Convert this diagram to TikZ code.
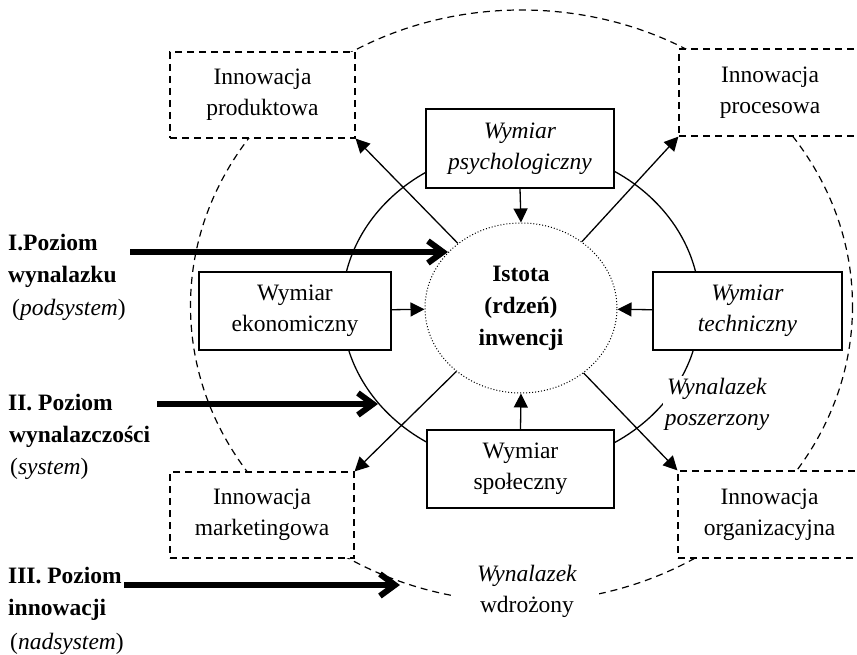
\documentclass[tikz,border=0pt]{standalone}
\usepackage{fontspec}
\setmainfont{Liberation Serif}
\usetikzlibrary{arrows.meta,shapes.geometric}
\begin{document}
\begin{tikzpicture}[x=1pt,y=-1pt,
  every node/.style={font=\fontsize{23.5}{31}\selectfont},
  dimbox/.style={draw,line width=1.3pt,fill=white,align=center,inner sep=0pt},
  innobox/.style={draw,line width=1.2pt,dash pattern=on 7pt off 5pt,fill=white,align=center,inner sep=0pt},
  bigdash/.style={line width=1.2pt,dash pattern=on 7pt off 5pt},
  thin/.style={line width=1.3pt,-{Triangle[length=14pt,width=14pt]}},
  lvl/.style={line width=6pt,-{Straight Barb[length=15pt,width=22pt]}},
  lbl/.style={anchor=base west,inner sep=0pt},
  freetext/.style={fill=white,align=center,inner sep=2pt}
]
\useasboundingbox (0,0) rectangle (857,655);
\clip (0,0) rectangle (857,655);
\fill[white] (0,0) rectangle (857,655);

% outer dashed ellipse (Wynalazek wdrozony)
\draw[bigdash] (521.5,306) ellipse [x radius=331, y radius=296];
% solid ellipse (Wynalazek poszerzony)
\draw[line width=1.3pt] (521,307) ellipse [x radius=179, y radius=159];

% innovation boxes
\node[innobox,minimum width=185pt,minimum height=86pt] (prod) at (262.5,95) {Innowacja\\produktowa};
\node[innobox,minimum width=182pt,minimum height=87pt] (proc) at (770,92.5) {Innowacja\\procesowa};
\node[innobox,minimum width=184pt,minimum height=86pt] (mark) at (262,515) {Innowacja\\marketingowa};
\node[innobox,minimum width=183pt,minimum height=87pt] (org) at (769.5,514.5) {Innowacja\\organizacyjna};

% free texts
\node[freetext] (posz) at (717,404) {\textit{Wynalazek}\\\textit{poszerzony}};
\node[freetext,inner xsep=22pt,inner ysep=1pt] (wdr) at (527,591) {\textit{Wynalazek}\\wdrożony};

% dimension boxes
\node[dimbox,minimum width=188pt,minimum height=79pt] (psych) at (520,148.5) {\textit{Wymiar}\\\textit{psychologiczny}};
\node[dimbox,minimum width=192pt,minimum height=78pt] (ekon) at (295,311) {Wymiar\\ekonomiczny};
\node[dimbox,minimum width=189pt,minimum height=78pt] (tech) at (747.5,311) {\textit{Wymiar}\\\textit{techniczny}};
\node[dimbox,minimum width=187pt,minimum height=78pt] (spol) at (520.5,469) {Wymiar\\społeczny};

% core
\node[ellipse,draw,line width=1pt,dash pattern=on 1pt off 2pt,fill=white,
      minimum width=192pt,minimum height=170pt,inner sep=0pt,align=center,
      font=\fontsize{23.5}{32}\selectfont\bfseries] (core) at (521,308)
      {Istota\\(rdzeń)\\inwencji};

% arrows into core
\draw[thin] (psych.south) -- (core.north);
\draw[thin] (spol.north) -- (core.south);
\draw[thin] (ekon) -- (core);
\draw[thin] (tech) -- (core);

% arrows out of core
\draw[thin] (core) -- (prod.south east);
\draw[thin] (core) -- (proc.south west);
\draw[thin] (core) -- (mark.north east);
\draw[thin] (core) -- (org.north west);

% level arrows
\coordinate (s1) at (130,252);
\coordinate (e1) at (448,252);
\coordinate (s2) at (157,404);
\coordinate (e2) at (378,404);
\coordinate (s3) at (124,585);
\coordinate (e3) at (400,585);
\draw[lvl] (s1) -- (e1);
\draw[lvl] (s2) -- (e2);
\draw[lvl] (s3) -- (e3);

% level labels
\node[lbl] (l1a) at (8,251) {\textbf{I.Poziom}};
\node[lbl] (l1b) at (8,283) {\textbf{wynalazku}};
\node[lbl] (l1c) at (12,315) {(\textit{podsystem})};
\node[lbl] (l2a) at (8,410) {\textbf{II. Poziom}};
\node[lbl] (l2b) at (9,442) {\textbf{wynalazczości}};
\node[lbl] (l2c) at (10,474) {(\textit{system})};
\node[lbl] (l3a) at (8,583) {\textbf{III. Poziom}};
\node[lbl] (l3b) at (8,615) {\textbf{innowacji}};
\node[lbl] (l3c) at (10,649) {(\textit{nadsystem})};
\end{tikzpicture}
\end{document}
